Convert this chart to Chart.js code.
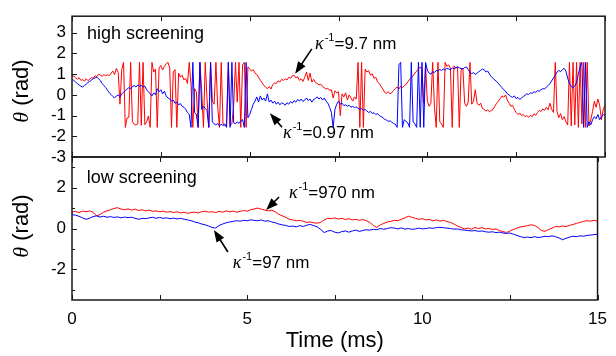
<!DOCTYPE html>
<html>
<head>
<meta charset="utf-8">
<title>Angle vs time, high and low screening</title>
<script src="https://cdn.jsdelivr.net/npm/chart.js@4/dist/chart.umd.min.js"></script>
<style>
    html, body { margin: 0; padding: 0; background: #fff; }
    #wrap { position: relative; width: 616px; height: 356px; }
    #wrap canvas { position: absolute; left: 0; top: 0; }
</style>
</head>
<body>
<div id="wrap">
    <canvas id="highChart" width="616" height="356"></canvas>
    <canvas id="lowChart" width="616" height="356"></canvas>
</div>
<script>
// sample spacing (ms)
const HIGH_STEP = 0.05;
const LOW_STEP = 0.1;

// high screening, kappa^-1 = 9.7 nm (red), one row per ms
const redHigh = [
    0.88, 0.92, 0.82, 0.76, 0.83, 0.70, 0.74, 0.66, 0.78, 0.69, 0.75, 0.84, 0.80, 0.93, 0.88, 1.00, 0.95, 0.90, 0.98, 0.92,
    0.97, 0.93, 1.05, 1.15, 0.98, 1.28, 1.08, -0.45, 1.22, 1.57, -1.57, -1.12, -1.08, 1.57, -1.30, -1.42, -1.45, -1.40, 1.57, -1.47,
    1.57, -1.44, -1.30, -1.02, -1.57, 1.57, 1.10, 1.25, -1.57, 1.30, 1.42, 1.20, 1.38, 1.50, 1.57, 1.30, -1.57, 1.10, 1.22, -1.57,
    1.05, 0.85, 0.95, 0.72, 0.80, 0.55, 1.57, 0.45, -1.57, 0.30, 0.15, -1.57, 1.57, 0.20, -1.57, 1.57, -0.20, -1.57, 1.57, -0.30,
    -0.45, 1.57, -0.55, -1.57, 1.57, -1.42, -1.50, -1.45, 1.57, -1.48, -1.40, -0.50, 1.57, -0.35, 1.57, -1.57, 1.45, 1.57, -1.57, 1.35,
    1.25, 1.15, 1.22, 1.05, 0.98, 0.85, 0.70, 0.58, 0.45, 0.38, 0.30, 0.40, 0.28, 0.50, 0.58, 0.55, 0.68, 0.62, 0.75, 0.70,
    0.78, 0.72, 0.85, 0.80, 0.92, 0.95, 0.82, 0.88, 0.70, 0.78, 0.65, 0.85, 1.10, 0.70, 1.05, 0.62, 0.75, 0.60, 0.55, 0.48,
    0.52, 0.40, 0.35, 0.28, 0.32, 0.22, 0.25, -0.15, 0.20, 0.10, 0.15, -1.00, 0.05, -0.10, 0.10, -0.25, 0.00, -0.15, -0.30, -0.10,
    -0.20, 1.57, -1.57, 1.57, -1.57, 1.25, 1.10, 1.18, 0.95, 1.02, 0.80, 0.85, 0.62, 0.55, 0.40, 0.28, 0.12, 0.08, 0.15, 0.05,
    0.10, 0.22, 0.30, 0.38, 0.28, 0.42, 0.35, 0.45, 0.50, 0.62, 0.75, 0.85, 0.92, 1.05, 1.15, 1.25, 1.35, 1.20, -0.40, 1.45,
    -0.30, -0.55, -0.40, 1.57, -0.60, -1.57, 1.57, -1.30, -1.40, -1.57, 1.57, 1.38, 1.45, 1.30, -1.57, 1.40, 1.28, 1.35, -1.57, 1.20,
    1.30, -0.40, -0.55, -0.35, 1.57, -0.45, -0.30, 0.25, -0.40, -0.50, -0.40, -0.65, -0.70, -0.78, -0.72, -0.82, -0.75, -0.70, -0.55, -0.40,
    -0.30, -0.18, -0.05, -0.12, 0.00, -0.25, -0.40, -0.55, -0.50, -0.70, -0.85, -0.95, -0.88, -1.00, -0.95, -1.05, -1.00, -1.08, -0.98, -1.05,
    -0.92, -0.98, -0.85, -0.75, -0.80, -0.68, -0.75, -0.60, -0.72, -0.40, -0.70, -0.85, 1.57, -0.80, -1.10, -0.90, -1.20, -1.05, -1.30, -1.45,
    1.57, -1.50, 1.57, -1.45, 1.57, -1.57, 1.57, -1.40, 1.57, -1.57, 1.57, -1.50, -1.20, -0.80, -0.30, -0.60, -0.20, -0.50, -1.20, -0.70,
    -0.50
];

// high screening, kappa^-1 = 0.97 nm (blue)
const blueHigh = [
    0.75, 0.70, 0.62, 0.55, 0.48, 0.42, 0.38, 0.45, 0.52, 0.60, 0.65, 0.72, 0.78, 0.82, 0.85, 0.78, 0.68, 0.55, 0.45, 0.35,
    0.22, 0.10, 0.02, -0.08, -0.15, -0.05, 0.00, -0.10, 0.05, 0.12, 0.20, 0.28, 0.35, 0.30, 0.40, 0.45, 0.38, 0.48, 0.42, 0.45,
    0.38, 0.42, 0.25, 0.15, 0.05, -0.05, 0.10, 0.00, 0.30, 0.15, 0.25, 0.05, 0.18, -0.05, -0.15, -0.20, -0.30, -0.25, -0.40, -0.35,
    -0.48, -0.42, -0.55, -0.60, -0.70, -0.85, -0.95, -1.57, 1.57, -0.85, -0.95, -1.57, 1.57, -0.70, -0.55, -0.65, -0.75, -1.57, 1.57, -1.30,
    -1.40, -1.45, -1.38, -1.50, -1.42, -1.48, -1.40, -1.57, 1.57, -1.57, 1.57, -1.35, -1.40, -1.30, -1.38, -1.25, -1.20, -1.57, 1.57, -1.10,
    -0.95, -0.70, -0.45, -0.30, -0.10, -0.35, -0.05, -0.25, -0.15, -0.30, 0.05, -0.35, -0.25, -0.40, -0.30, -0.45, -0.35, -0.48, -0.38, -0.42,
    -0.50, -0.38, -0.45, -0.32, -0.40, -0.28, -0.35, -0.22, -0.30, -0.20, -0.32, -0.25, -0.15, -0.28, -0.20, -0.35, -0.22, -0.18, -0.10, -0.20,
    -0.12, -0.25, -0.15, -0.30, -0.40, -0.60, -0.85, -1.57, -0.70, -0.45, -0.30, -0.45, -0.40, -0.52, -0.48, -0.55, -0.50, -0.60, -0.55, -0.62,
    -0.58, -0.65, -0.70, -0.66, -0.74, -0.70, -0.78, -0.85, -0.80, -0.90, -0.86, -0.95, -0.90, -1.00, -1.05, -1.10, -1.18, -1.22, -1.28, -1.25,
    -1.32, -1.38, -1.42, -1.57, 1.45, 1.57, -1.57, -1.20, -1.28, -1.35, -1.57, 1.57, -1.30, -1.40, -1.57, 1.57, -1.57, 1.57, -1.57, 1.57,
    1.20, 1.05, 1.00, 1.12, 1.08, 1.18, 1.15, 1.22, 1.18, 1.25, 1.20, 1.28, 1.25, 1.22, 1.30, 1.26, 1.32, 1.35, 1.30, 1.28,
    1.25, 1.32, 1.35, 1.22, 1.10, 1.02, 1.08, 0.98, 1.05, 1.12, 1.18, 1.25, 1.22, 1.10, 1.15, 1.00, 0.88, 0.80, 0.72, 0.65,
    0.55, 0.45, 0.35, 0.25, 0.18, 0.05, 0.00, -0.08, -0.12, -0.05, -0.18, -0.12, -0.22, -0.15, -0.08, -0.02, 0.05, 0.02, 0.10, 0.08,
    0.15, 0.12, 0.20, 0.18, 0.25, 0.30, 0.28, 0.38, 0.45, 0.55, 0.68, 0.82, 0.95, 1.10, 1.18, 1.12, 1.22, 1.28, 1.15, 0.80,
    0.55, 0.40, 0.35, 0.42, 0.60, 1.00, 1.35, 1.57, -1.57, 1.57, -1.57, -1.30, -1.45, -1.20, -1.05, -1.15, -0.95, -1.20, -1.05, -0.95,
    -1.00
];

// low screening, kappa^-1 = 970 nm (red), one row per ms
const redLow = [
    0.80, 0.84, 0.78, 0.85, 0.82, 0.86, 0.80, 0.62, 0.68, 0.80,
    0.86, 0.92, 0.98, 1.02, 0.95, 0.92, 0.96, 0.90, 0.95, 0.88,
    0.92, 0.86, 0.90, 0.84, 0.86, 0.82, 0.85, 0.80, 0.83, 0.78,
    0.82, 0.76, 0.80, 0.74, 0.78, 0.80, 0.76, 0.82, 0.85, 0.80,
    0.82, 0.78, 0.84, 0.80, 0.86, 0.82, 0.85, 0.80, 0.84, 0.88,
    0.85, 0.92, 0.96, 1.00, 0.95, 0.90, 0.86, 0.90, 0.82, 0.70,
    0.62, 0.55, 0.45, 0.42, 0.38, 0.40, 0.35, 0.30, 0.32, 0.28,
    0.26, 0.30, 0.42, 0.50, 0.48, 0.52, 0.46, 0.50, 0.44, 0.48,
    0.42, 0.45, 0.40, 0.44, 0.38, 0.30, 0.15, 0.05, 0.18, 0.25,
    0.32, 0.35, 0.40, 0.38, 0.45, 0.52, 0.60, 0.55, 0.50, 0.45,
    0.48, 0.42, 0.45, 0.38, 0.42, 0.36, 0.40, 0.34, 0.30, 0.22,
    0.12, 0.05, -0.02, 0.02, -0.04, 0.05, 0.00, 0.04, -0.02, 0.00,
    -0.05, -0.02, -0.10, -0.15, -0.20, -0.12, -0.05, 0.02, 0.08, 0.10,
    0.14, 0.18, 0.15, 0.05, -0.10, -0.14, -0.05, 0.02, 0.10, 0.08,
    0.12, 0.10, 0.15, 0.20, 0.25, 0.30, 0.35, 0.38, 0.36, 0.40,
    0.36
];

// low screening, kappa^-1 = 97 nm (blue)
const blueLow = [
    0.68, 0.65, 0.60, 0.52, 0.45, 0.50, 0.58, 0.62, 0.56, 0.60,
    0.55, 0.58, 0.54, 0.57, 0.52, 0.56, 0.53, 0.55, 0.50, 0.45,
    0.50, 0.48, 0.52, 0.55, 0.50, 0.54, 0.50, 0.52, 0.48, 0.51,
    0.47, 0.50, 0.45, 0.42, 0.38, 0.32, 0.28, 0.22, 0.18, 0.12,
    0.05, 0.02, 0.15, 0.22, 0.28, 0.32, 0.35, 0.38, 0.36, 0.40,
    0.38, 0.42, 0.40, 0.38, 0.42, 0.36, 0.38, 0.32, 0.28, 0.22,
    0.18, 0.15, 0.10, 0.12, 0.08, 0.14, 0.10, 0.16, 0.20, 0.14,
    0.08, -0.05, -0.20, -0.12, -0.10, -0.18, -0.22, -0.15, -0.12, -0.18,
    -0.12, -0.08, -0.14, -0.10, -0.06, -0.08, -0.04, -0.06, 0.00, -0.04,
    0.00, 0.04, 0.02, -0.02, 0.03, -0.03, 0.00, -0.04, -0.02, 0.02,
    -0.02, 0.00, 0.03, 0.01, 0.04, 0.06, 0.04, 0.02, 0.00, -0.03,
    -0.02, -0.06, -0.08, -0.10, -0.12, -0.10, -0.14, -0.12, -0.16, -0.18,
    -0.16, -0.20, -0.18, -0.22, -0.24, -0.22, -0.28, -0.34, -0.40, -0.44,
    -0.42, -0.45, -0.40, -0.44, -0.42, -0.38, -0.40, -0.36, -0.40, -0.46,
    -0.55, -0.48, -0.42, -0.38, -0.40, -0.36, -0.38, -0.34, -0.32, -0.30,
    -0.28
];

// ticks
const timeTicks = [0, 5, 10, 15];
const timeMinorTicks = [2.5, 7.5, 12.5];
const highTicks = [-3, -2, -1, 0, 1, 2, 3];
const lowTicks = [-2, 0, 2];
const lowMinorTicks = [-3, -1, 1, 3];

const SANS = '"Liberation Sans", Arial, sans-serif';
const SERIF = '"Liberation Serif", "Times New Roman", serif';

function toPoints(values, step) {
    return values.map((v, i) => ({ x: Math.round(i * step * 100) / 100, y: v }));
}

/**
 * Inward tick marks and the box round each panel
 */
const framePlugin = {
    id: 'panelFrame',
    afterDatasetsDraw(chart, args, opts) {
        const { ctx, chartArea: a } = chart;
        const xs = chart.scales.x;
        const ys = chart.scales.y;
        ctx.save();
        ctx.strokeStyle = '#1a1a1a';
        ctx.lineWidth = 1;
        ctx.beginPath();
        timeTicks.concat(timeMinorTicks).forEach(v => {
            const px = Math.round(xs.getPixelForValue(v)) + 0.5;
            ctx.moveTo(px, a.top);
            ctx.lineTo(px, a.top + 5);
            ctx.moveTo(px, a.bottom);
            ctx.lineTo(px, a.bottom - 5);
        });
        opts.majorY.forEach(v => {
            const py = Math.round(ys.getPixelForValue(v)) + 0.5;
            ctx.moveTo(a.left, py);
            ctx.lineTo(a.left + 5, py);
        });
        opts.minorY.forEach(v => {
            const py = Math.round(ys.getPixelForValue(v)) + 0.5;
            ctx.moveTo(a.left, py);
            ctx.lineTo(a.left + 3, py);
        });
        ctx.stroke();
        ctx.lineWidth = 1.5;
        ctx.strokeRect(a.left, a.top, a.right - a.left, a.bottom - a.top);
        ctx.restore();
    }
};

function drawArrow(ctx, x1, y1, x2, y2) {
    const ang = Math.atan2(y2 - y1, x2 - x1);
    const len = 12, half = 4.5;
    const c = Math.cos(ang), s = Math.sin(ang);
    ctx.beginPath();
    ctx.moveTo(x1, y1);
    ctx.lineTo(x2 - c * len * 0.7, y2 - s * len * 0.7);
    ctx.lineWidth = 1.6;
    ctx.stroke();
    ctx.beginPath();
    ctx.moveTo(x2, y2);
    ctx.lineTo(x2 - c * len + s * half, y2 - s * len - c * half);
    ctx.lineTo(x2 - c * len - s * half, y2 - s * len + c * half);
    ctx.closePath();
    ctx.fill();
}

function drawKappa(ctx, x, y, value) {
    ctx.textAlign = 'left';
    ctx.textBaseline = 'alphabetic';
    ctx.font = 'italic 18px ' + SERIF;
    ctx.fillText('κ', x, y);
    let cx = x + ctx.measureText('κ').width + 1;
    ctx.font = '11px ' + SANS;
    ctx.fillText('-1', cx, y - 8);
    cx += ctx.measureText('-1').width;
    ctx.font = '17px ' + SANS;
    ctx.fillText('=' + value + ' nm', cx, y);
}

function drawThetaTitle(ctx, cx, cy) {
    ctx.save();
    ctx.translate(cx, cy);
    ctx.rotate(-Math.PI / 2);
    ctx.textBaseline = 'middle';
    ctx.textAlign = 'left';
    ctx.font = 'italic 22px ' + SERIF;
    const w1 = ctx.measureText('θ').width;
    ctx.font = '22px ' + SANS;
    const w2 = ctx.measureText(' (rad)').width;
    const x0 = -(w1 + w2) / 2;
    ctx.font = 'italic 22px ' + SERIF;
    ctx.fillText('θ', x0, 0);
    ctx.font = '22px ' + SANS;
    ctx.fillText(' (rad)', x0 + w1, 0);
    ctx.restore();
}

/**
 * Panel name, y title and the kappa labels with arrows
 */
const textPlugin = {
    id: 'panelText',
    afterDraw(chart, args, opts) {
        const { ctx } = chart;
        const xs = chart.scales.x;
        const ys = chart.scales.y;
        const px = p => [xs.getPixelForValue(p[0]), ys.getPixelForValue(p[1])];
        ctx.save();
        ctx.fillStyle = '#000';
        ctx.strokeStyle = '#000';

        const lp = px(opts.labelAt);
        ctx.font = '18px ' + SANS;
        ctx.textAlign = 'left';
        ctx.textBaseline = 'alphabetic';
        ctx.fillText(opts.label, lp[0], lp[1]);

        drawThetaTitle(ctx, 22, opts.titleY);

        opts.notes.forEach(n => {
            const t = px(n.at);
            drawKappa(ctx, t[0], t[1], n.value);
            const a = px(n.tail);
            const b = px(n.tip);
            drawArrow(ctx, a[0], a[1], b[0], b[1]);
        });
        ctx.restore();
    }
};

function yScale(min, max, ticks) {
    return {
        type: 'linear',
        min: min,
        max: max,
        afterBuildTicks: s => { s.ticks = ticks.map(v => ({ value: v })); },
        afterFit: s => { s.width = 72; },
        grid: { display: false, drawTicks: false },
        border: { display: false },
        ticks: {
            autoSkip: false,
            padding: 6,
            color: '#000',
            font: { family: SANS, size: 17 },
            callback: v => String(v)
        }
    };
}

function traceSet(values, step, color) {
    return {
        data: toPoints(values, step),
        borderColor: color,
        borderWidth: 1,
        pointRadius: 0,
        tension: 0,
        fill: false
    };
}

// top panel: high screening
new Chart(document.getElementById('highChart'), {
    type: 'line',
    data: {
        datasets: [
            traceSet(blueHigh, HIGH_STEP, 'rgb(0, 0, 255)'),
            traceSet(redHigh, HIGH_STEP, 'rgb(255, 0, 0)')
        ]
    },
    options: {
        responsive: false,
        animation: false,
        devicePixelRatio: 1,
        layout: { padding: { top: 15, right: 11, bottom: 199, left: 0 } },
        plugins: {
            legend: { display: false },
            tooltip: { enabled: false },
            panelFrame: { majorY: highTicks, minorY: [] },
            panelText: {
                label: 'high screening',
                labelAt: [0.42, 2.70],
                titleY: 91,
                notes: [
                    { value: '9.7', at: [6.84, 2.22], tail: [6.75, 2.22], tip: [6.28, 1.02] },
                    { value: '0.97', at: [5.94, -2.09], tail: [5.91, -1.56], tip: [5.57, -0.89] }
                ]
            }
        },
        scales: {
            x: { type: 'linear', min: 0, max: 15, display: false },
            y: yScale(-3, 3.8, highTicks)
        }
    },
    plugins: [framePlugin, textPlugin]
});

// bottom panel: low screening
new Chart(document.getElementById('lowChart'), {
    type: 'line',
    data: {
        datasets: [
            traceSet(blueLow, LOW_STEP, 'rgb(0, 0, 255)'),
            traceSet(redLow, LOW_STEP, 'rgb(255, 0, 0)')
        ]
    },
    options: {
        responsive: false,
        animation: false,
        devicePixelRatio: 1,
        layout: { padding: { top: 157, right: 11, bottom: 0, left: 0 } },
        plugins: {
            legend: { display: false },
            tooltip: { enabled: false },
            panelFrame: { majorY: lowTicks, minorY: lowMinorTicks },
            panelText: {
                label: 'low screening',
                labelAt: [0.42, 2.23],
                titleY: 226,
                notes: [
                    { value: '970', at: [6.19, 1.49], tail: [5.91, 1.54], tip: [5.54, 0.91] },
                    { value: '97', at: [4.59, -1.93], tail: [4.45, -1.15], tip: [4.05, -0.07] }
                ]
            }
        },
        scales: {
            x: {
                type: 'linear',
                min: 0,
                max: 15,
                afterBuildTicks: s => { s.ticks = timeTicks.map(v => ({ value: v })); },
                afterFit: s => { s.height = 56; },
                grid: { display: false, drawTicks: false },
                border: { display: false },
                ticks: {
                    autoSkip: false,
                    maxRotation: 0,
                    padding: 9,
                    color: '#000',
                    font: { family: SANS, size: 17 },
                    callback: v => String(v)
                },
                title: {
                    display: true,
                    text: 'Time (ms)',
                    color: '#000',
                    font: { family: SANS, size: 22 },
                    padding: { top: 0, bottom: 2 }
                }
            },
            y: yScale(-3.5, 3.5, lowTicks)
        }
    },
    plugins: [framePlugin, textPlugin]
});
</script>
</body>
</html>
